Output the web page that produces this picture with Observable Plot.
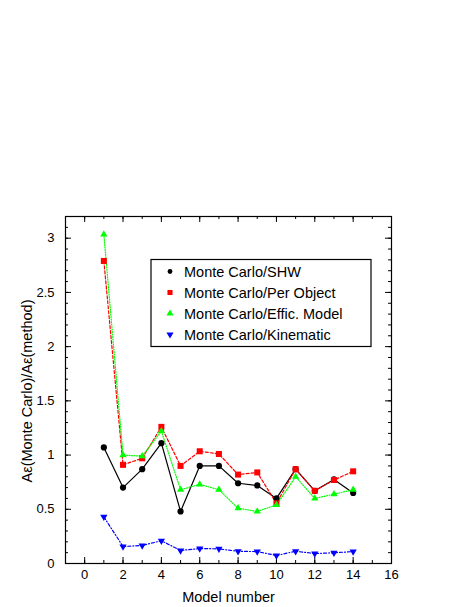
<!DOCTYPE html>
<html>
<head>
<meta charset="utf-8">
<script src="https://cdn.jsdelivr.net/npm/d3@7"></script>
<script src="https://cdn.jsdelivr.net/npm/@observablehq/plot@0.6"></script>
<style>
  html, body { margin: 0; padding: 0; background: #fff; }
  svg { display: block; }
</style>
</head>
<body>
<div id="chart"></div>
<script>
// ---- data ----
const models = [1, 2, 3, 4, 5, 6, 7, 8, 9, 10, 11, 12, 13, 14];
const shw        = [1.07, 0.70, 0.87, 1.11, 0.48, 0.90, 0.90, 0.74, 0.72, 0.60, 0.87, 0.67, 0.775, 0.65];
const perObject  = [2.79, 0.91, 0.97, 1.26, 0.90, 1.035, 1.01, 0.82, 0.84, 0.555, 0.87, 0.67, 0.77, 0.85];
const efficModel = [3.035, 1.00, 0.99, 1.22, 0.68, 0.73, 0.68, 0.51, 0.48, 0.54, 0.80, 0.60, 0.64, 0.68];
const kinematic  = [0.43, 0.157, 0.166, 0.21, 0.12, 0.138, 0.135, 0.112, 0.11, 0.074, 0.113, 0.092, 0.099, 0.11];
const seriesNames = ["Monte Carlo/SHW", "Monte Carlo/Per Object", "Monte Carlo/Effic. Model", "Monte Carlo/Kinematic"];
const xTickLabels = [0, 2, 4, 6, 8, 10, 12, 14, 16];
const xMinorTicks = d3.range(-1, 17, 1);
const yTickLabels = [0, 0.5, 1, 1.5, 2, 2.5, 3];
const yMinorTicks = d3.range(0, 33, 1).map(d => d / 10);
const xLabel = "Model number";
const yLabel = "Aε(Monte Carlo)/Aε(method)";

// ---- layout ----
const W = 469, H = 607;
const mL = 65, mR = 78, mT = 216, mB = 44;
const pw = W - mL - mR, ph = H - mT - mB;
const font = "'Liberation Sans', Arial, Helvetica, sans-serif";

const triangleDown = {
  draw(context, size) {
    const y = Math.sqrt(size / (Math.sqrt(3) * 3));
    context.moveTo(0, y * 2);
    context.lineTo(-Math.sqrt(3) * y, -y);
    context.lineTo(Math.sqrt(3) * y, -y);
    context.closePath();
  }
};

const series = [
  {name: seriesNames[0], values: shw,        color: "#000000", dash: null,      symbol: "circle",   r: 3.1},
  {name: seriesNames[1], values: perObject,  color: "#ff0000", dash: "3,2",     symbol: "square",   r: 3.4},
  {name: seriesNames[2], values: efficModel, color: "#00ff00", dash: "1,1.5",   symbol: "triangle", r: 2.7},
  {name: seriesNames[3], values: kinematic,  color: "#0000ff", dash: "3,2,1,2", symbol: triangleDown, r: 2.7}
];

const marks = [];
for (const s of series) {
  const rows = models.map((m, i) => ({m, v: s.values[i]}));
  marks.push(Plot.line(rows, {x: "m", y: "v", stroke: s.color, strokeWidth: 1.2, strokeDasharray: s.dash}));
}
for (const s of series) {
  const rows = models.map((m, i) => ({m, v: s.values[i]}));
  marks.push(Plot.dot(rows, {x: "m", y: "v", fill: s.color, stroke: "none", symbol: s.symbol, r: s.r}));
}

const chart = Plot.plot({
  width: W, height: H,
  marginLeft: mL, marginRight: mR, marginTop: mT, marginBottom: mB,
  style: {fontFamily: font, fontSize: "13px", color: "black", background: "white"},
  x: {domain: [-1, 16]},
  y: {domain: [0, 3.2]},
  marks: [
    // inward ticks, bottom/top
    Plot.tickX(xMinorTicks, {x: d => d, insetTop: ph - 3, stroke: "black"}),
    Plot.tickX(xTickLabels, {x: d => d, insetTop: ph - 6, stroke: "black"}),
    Plot.tickX(xMinorTicks, {x: d => d, insetBottom: ph - 3, stroke: "black"}),
    Plot.tickX(xTickLabels, {x: d => d, insetBottom: ph - 6, stroke: "black"}),
    // inward ticks, left/right
    Plot.tickY(yMinorTicks, {y: d => d, insetRight: pw - 3, stroke: "black"}),
    Plot.tickY(yTickLabels, {y: d => d, insetRight: pw - 6, stroke: "black"}),
    Plot.tickY(yMinorTicks, {y: d => d, insetLeft: pw - 3, stroke: "black"}),
    Plot.tickY(yTickLabels, {y: d => d, insetLeft: pw - 6, stroke: "black"}),
    Plot.axisX(xTickLabels, {anchor: "bottom", tickSize: 0, tickPadding: 6, label: null, fontSize: 13, tickFormat: d => String(d)}),
    Plot.axisY(yTickLabels, {anchor: "left", tickSize: 0, tickPadding: 11, label: null, fontSize: 13, tickFormat: d => String(d)}),
    Plot.text([xLabel], {text: d => d, frameAnchor: "bottom", lineAnchor: "bottom", dy: 38, fontSize: 14.5}),
    Plot.text([yLabel], {text: d => d, frameAnchor: "left", textAnchor: "middle", lineAnchor: "bottom", rotate: -90, dx: -34, dy: 1, fontSize: 14.5}),
    ...marks,
    Plot.frame({stroke: "black", strokeWidth: 1.2})
  ]
});

// ---- legend (inside plot area) ----
const svg = d3.select(chart);
const lg = svg.append("g").attr("font-family", font).attr("font-size", "14.5px").attr("text-anchor", "start");
const lx = 151, ly = 259.5, lw = 220, lh = 87;
lg.append("rect").attr("x", lx).attr("y", ly).attr("width", lw).attr("height", lh)
  .attr("fill", "white").attr("stroke", "black").attr("stroke-width", 1.2);
const legendSyms = [d3.symbolCircle, d3.symbolSquare, d3.symbolTriangle, triangleDown];
const legendSizes = [18, 26, 22, 22];
series.forEach((s, i) => {
  const cy = ly + 12 + i * 21;
  lg.append("path")
    .attr("d", d3.symbol(legendSyms[i], legendSizes[i])())
    .attr("transform", `translate(${lx + 19},${cy})`)
    .attr("fill", s.color);
  lg.append("text").attr("x", lx + 33).attr("y", cy + 5.3).attr("fill", "black")
    .attr("text-anchor", "start").text(s.name);
});

document.getElementById("chart").appendChild(chart);
</script>
</body>
</html>
